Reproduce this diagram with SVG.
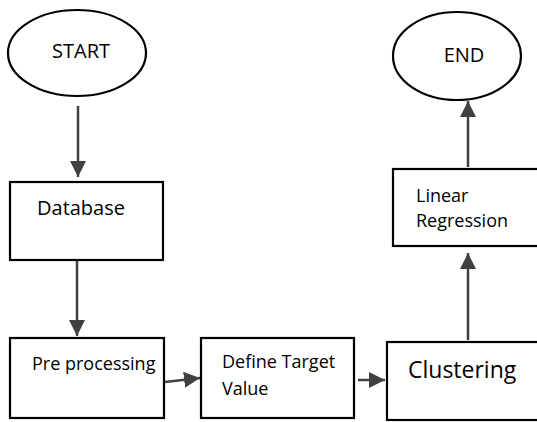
<svg xmlns="http://www.w3.org/2000/svg" width="537" height="422" viewBox="0 0 537 422">
<style>
.shape{fill:#fff;stroke:#000;stroke-width:2.2}
.t{font-family:"Open Sans","Noto Sans","Liberation Sans",sans-serif;fill:#000}
.c{stroke:#404040;stroke-width:2.5;fill:none}
</style>
<defs>
<marker id="ah" markerUnits="userSpaceOnUse" markerWidth="16" markerHeight="16" viewBox="0 0 16 16" refX="16" refY="8" orient="auto">
<path d="M0,0 L16,8 L0,16 Z" fill="#404040"/>
</marker>
</defs>
<rect width="537" height="422" fill="#fff"/>
<g id="connectors">
<line class="c" x1="78" y1="106" x2="78" y2="177" marker-end="url(#ah)"/>
<line class="c" x1="77" y1="257" x2="77" y2="336" marker-end="url(#ah)"/>
<line class="c" x1="165" y1="382" x2="200" y2="378" marker-end="url(#ah)"/>
<line class="c" x1="358" y1="380" x2="385" y2="380" marker-end="url(#ah)"/>
<line class="c" x1="468" y1="340" x2="468" y2="253" marker-end="url(#ah)"/>
<line class="c" x1="468" y1="167" x2="468" y2="101" marker-end="url(#ah)"/>
</g>
<g id="start">
<ellipse class="shape" cx="77" cy="53" rx="69" ry="43"/>
<text class="t" x="81" y="58" font-size="20" text-anchor="middle">START</text>
</g>
<g id="database">
<rect class="shape" x="10" y="182" width="153" height="78"/>
<text class="t" x="37" y="215" font-size="20">Database</text>
</g>
<g id="preprocessing">
<rect class="shape" x="10" y="338" width="154" height="80"/>
<text class="t" x="32" y="370" font-size="18">Pre processing</text>
</g>
<g id="define">
<rect class="shape" x="201" y="338" width="153" height="80"/>
<text class="t" x="222" y="368" font-size="18">Define Target</text>
<text class="t" x="222" y="395" font-size="18">Value</text>
</g>
<g id="clustering">
<rect class="shape" x="387" y="342" width="160" height="78"/>
<text class="t" x="408" y="378" font-size="23">Clustering</text>
</g>
<g id="linear">
<rect class="shape" x="393" y="169" width="160" height="77"/>
<text class="t" x="416" y="202" font-size="18">Linear</text>
<text class="t" x="416" y="227" font-size="18">Regression</text>
</g>
<g id="end">
<ellipse class="shape" cx="457" cy="56" rx="64" ry="44"/>
<text class="t" x="464" y="62" font-size="20" text-anchor="middle">END</text>
</g>
</svg>
